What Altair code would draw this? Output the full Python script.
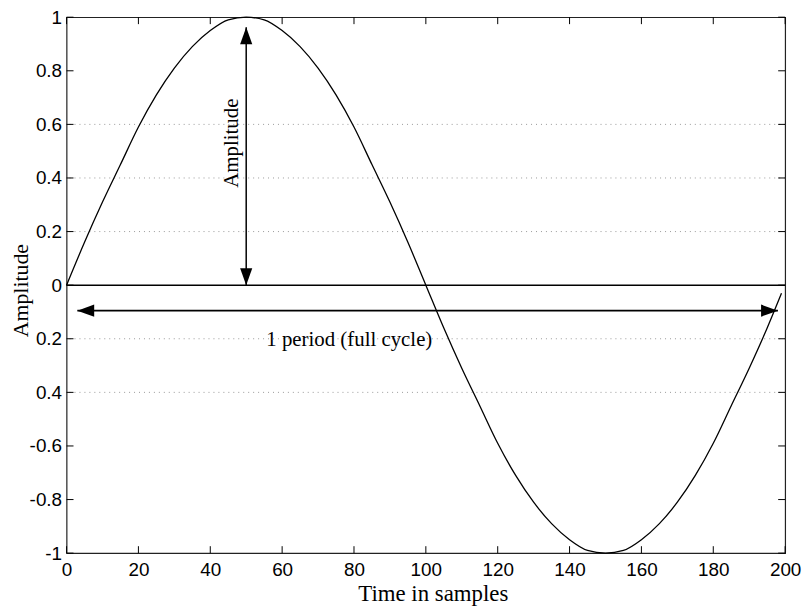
import json
import altair as alt
import pandas as pd

# ---- data ----
samples = [0, 5, 10, 15, 20, 25, 30, 35, 40, 45, 50, 55, 60, 65, 70, 75, 80, 85, 90, 95,
           100, 105, 110, 115, 120, 125, 130, 135, 140, 145, 150, 155, 160, 165, 170, 175,
           180, 185, 190, 195, 199]
amplitude = [0.0, 0.16, 0.31, 0.45, 0.59, 0.71, 0.81, 0.89, 0.95, 0.99, 1.0, 0.99, 0.95, 0.89,
             0.81, 0.71, 0.59, 0.45, 0.31, 0.16, 0.0, -0.16, -0.31, -0.45, -0.59, -0.71, -0.81,
             -0.89, -0.95, -0.99, -1.0, -0.99, -0.95, -0.89, -0.81, -0.71, -0.59, -0.45, -0.31,
             -0.16, -0.03]

x_ticks = [0, 20, 40, 60, 80, 100, 120, 140, 160, 180, 200]
y_ticks = [-1, -0.8, -0.6, -0.4, -0.2, 0, 0.2, 0.4, 0.6, 0.8, 1]
y_tick_labels = ["-1", "-0.8", "-0.6", "0.4", "0.2", "0", "0.2", "0.4", "0.6", "0.8", "1"]
grid_rows = [0.6, 0.4, 0.2, -0.2, -0.4]

amp_arrow_x = [50]
amp_arrow_y = [0.0, 0.962]
period_arrow_x = [3, 198]
period_arrow_y = [-0.095]

text_labels = ["Amplitude", "1 period (full cycle)"]
text_x = [46, 78.7]
text_y = [0.53, -0.203]
text_angle = [270, 0]

# ---- chart ----
W, H = 724, 540
xs = alt.Scale(domain=[0, 200], nice=False, zero=False)
ys = alt.Scale(domain=[-1, 1], nice=False)
SANS = "Liberation Sans"
SERIF = "Liberation Serif"

curve_df = pd.DataFrame({"t": samples, "a": amplitude})

label_expr = json.dumps(y_tick_labels) + "[round(datum.value*5)+5]"

curve = alt.Chart(curve_df).mark_line(color="black", strokeWidth=1.3, interpolate="monotone").encode(
    x=alt.X("t:Q", scale=xs, axis=alt.Axis(
        values=x_ticks, title="Time in samples", labelFont=SANS, labelFontSize=19,
        labelColor="black", labelFlush=False, labelPadding=8, domain=False, ticks=False,
        tickSize=0, grid=False, titleFont=SERIF, titleFontSize=23, titleFontWeight="normal",
        titleColor="black", titleX=369, titleY=41, titleAlign="center", titleBaseline="middle")),
    y=alt.Y("a:Q", scale=ys, axis=alt.Axis(
        values=y_ticks, labelExpr=label_expr, title="Amplitude", labelFont=SANS,
        labelFontSize=19, labelColor="black", labelFlush=False, labelPadding=5, domain=False,
        ticks=False, tickSize=0, grid=False, titleFont=SERIF, titleFontSize=22,
        titleFontWeight="normal", titleColor="black", titleAngle=270, titleX=-46, titleY=275,
        titleBaseline="middle", titleAlign="center")),
)

grid = alt.Chart(pd.DataFrame({"g": grid_rows})).mark_rule(
    color="#999999", strokeWidth=1, strokeDash=[1, 4]).encode(y=alt.Y("g:Q", scale=ys))

zero_line = alt.Chart(pd.DataFrame({"z": [0]})).mark_rule(color="black", strokeWidth=1.5).encode(
    y=alt.Y("z:Q", scale=ys))

# tick marks (inward) on all four sides
xt_df = pd.DataFrame({"t": x_ticks})
yt_df = pd.DataFrame({"v": y_ticks})
tick_len = 7
ticks_bottom = alt.Chart(xt_df).mark_rule(color="black", strokeWidth=1).encode(
    x=alt.X("t:Q", scale=xs), y=alt.value(H), y2=alt.value(H - tick_len))
ticks_top = alt.Chart(xt_df).mark_rule(color="black", strokeWidth=1).encode(
    x=alt.X("t:Q", scale=xs), y=alt.value(0), y2=alt.value(tick_len))
ticks_left = alt.Chart(yt_df).mark_rule(color="black", strokeWidth=1).encode(
    y=alt.Y("v:Q", scale=ys), x=alt.value(0), x2=alt.value(tick_len))
ticks_right = alt.Chart(yt_df).mark_rule(color="black", strokeWidth=1).encode(
    y=alt.Y("v:Q", scale=ys), x=alt.value(W), x2=alt.value(W - tick_len))

# amplitude arrow
amp_df = pd.DataFrame({"x": amp_arrow_x, "y1": [amp_arrow_y[0]], "y2": [amp_arrow_y[1]]})
amp_line = alt.Chart(amp_df).mark_rule(color="black", strokeWidth=1.5).encode(
    x=alt.X("x:Q", scale=xs), y=alt.Y("y1:Q", scale=ys), y2="y2:Q")
amp_up = alt.Chart(pd.DataFrame({"x": amp_arrow_x, "y": [amp_arrow_y[1]]})).mark_point(
    shape="M0,0L-0.36,1L0.36,1Z", size=1156, filled=True, color="black", opacity=1).encode(
    x=alt.X("x:Q", scale=xs), y=alt.Y("y:Q", scale=ys))
amp_down = alt.Chart(pd.DataFrame({"x": amp_arrow_x, "y": [amp_arrow_y[0]]})).mark_point(
    shape="M0,0L-0.36,-1L0.36,-1Z", size=1156, filled=True, color="black", opacity=1).encode(
    x=alt.X("x:Q", scale=xs), y=alt.Y("y:Q", scale=ys))

# period arrow
per_df = pd.DataFrame({"x1": [period_arrow_x[0]], "x2": [period_arrow_x[1]], "y": period_arrow_y})
per_line = alt.Chart(per_df).mark_rule(color="black", strokeWidth=2).encode(
    x=alt.X("x1:Q", scale=xs), x2="x2:Q", y=alt.Y("y:Q", scale=ys))
per_left = alt.Chart(pd.DataFrame({"x": [period_arrow_x[0]], "y": period_arrow_y})).mark_point(
    shape="M0,0L1,-0.36L1,0.36Z", size=1156, filled=True, color="black", opacity=1).encode(
    x=alt.X("x:Q", scale=xs), y=alt.Y("y:Q", scale=ys))
per_right = alt.Chart(pd.DataFrame({"x": [period_arrow_x[1]], "y": period_arrow_y})).mark_point(
    shape="M0,0L-1,-0.36L-1,0.36Z", size=1156, filled=True, color="black", opacity=1).encode(
    x=alt.X("x:Q", scale=xs), y=alt.Y("y:Q", scale=ys))

txt_df = pd.DataFrame({"label": text_labels, "x": text_x, "y": text_y, "ang": text_angle})
texts = alt.Chart(txt_df).mark_text(font=SERIF, fontSize=21, color="black", align="center",
                                    baseline="middle").encode(
    x=alt.X("x:Q", scale=xs), y=alt.Y("y:Q", scale=ys), text="label:N",
    angle=alt.Angle("ang:Q", scale=None))

chart = alt.layer(
    grid, zero_line, curve, amp_line, amp_up, amp_down, per_line, per_left, per_right, texts,
    ticks_bottom, ticks_top, ticks_left, ticks_right,
).properties(
    width=W, height=H, autosize="none",
    padding={"left": 59, "top": 7, "right": 18, "bottom": 52},
    background="white",
).configure_view(stroke="#222222", strokeWidth=1.2)

chart.save("out.html", embed_options={"renderer": "svg", "actions": False})
